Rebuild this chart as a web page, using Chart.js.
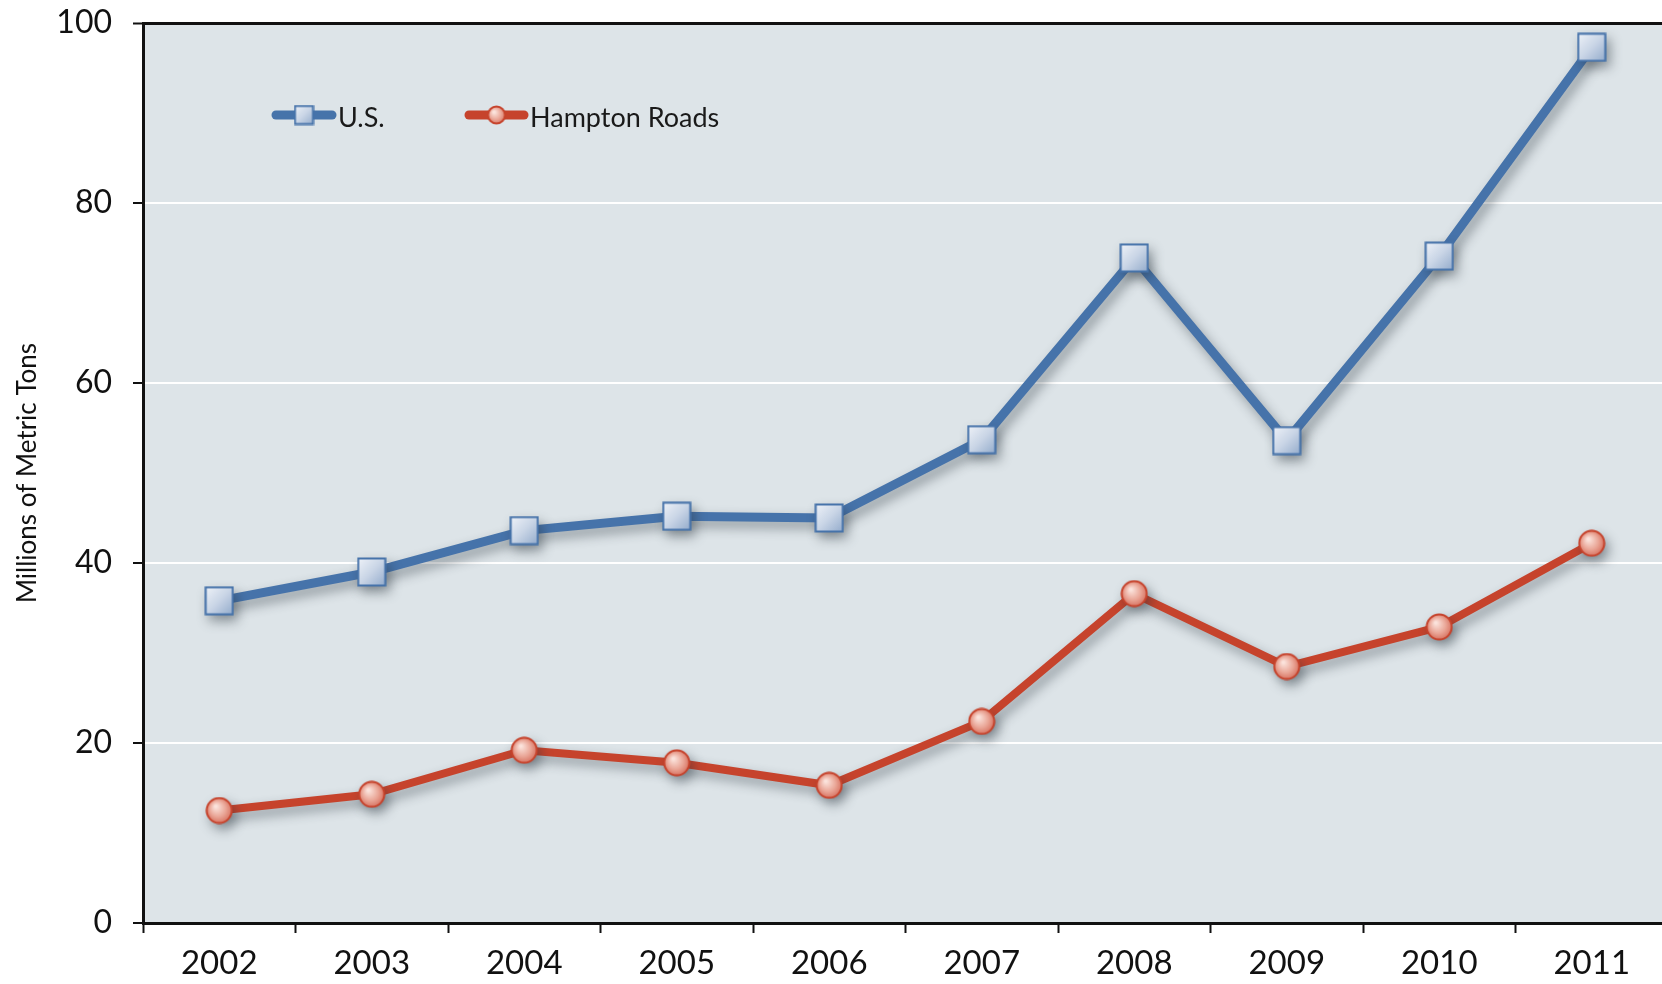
<!DOCTYPE html>
<html>
<head>
<meta charset="utf-8">
<script src="https://cdn.jsdelivr.net/npm/chart.js@4.4.1/dist/chart.umd.min.js"></script>
<style>
  html, body { margin: 0; padding: 0; background: #fff; overflow: hidden; }
  #tonsChart { display: block; }
</style>
</head>
<body>
<canvas id="tonsChart" width="1668" height="984"></canvas>
<script>
// Exports, millions of metric tons
const years = ['2002', '2003', '2004', '2005', '2006', '2007', '2008', '2009', '2010', '2011'];
const usTons = [35.8, 39.0, 43.6, 45.2, 45.0, 53.7, 73.9, 53.6, 74.1, 97.3];
const hamptonTons = [12.5, 14.3, 19.2, 17.8, 15.3, 22.4, 36.6, 28.5, 32.9, 42.2];
const yTicks = [0, 20, 40, 60, 80, 100];

const FONT = 'Lato, "Open Sans", sans-serif';
const BLUE = '#4673aa';
const RED = '#c6432c';

// marker sprites with a soft gradient fill
function squareSprite(size) {
  const c = document.createElement('canvas');
  c.width = size; c.height = size;
  const g = c.getContext('2d');
  const grad = g.createLinearGradient(0, 0, size, size);
  grad.addColorStop(0, '#f2f5fa');
  grad.addColorStop(0.5, '#c9d5e6');
  grad.addColorStop(1, '#8ea7c9');
  g.fillStyle = grad;
  g.fillRect(1, 1, size - 2, size - 2);
  g.strokeStyle = BLUE;
  g.lineWidth = 2;
  g.strokeRect(1.5, 1.5, size - 3, size - 3);
  return c;
}

function circleSprite(size) {
  const c = document.createElement('canvas');
  c.width = size; c.height = size;
  const g = c.getContext('2d');
  const r = size / 2;
  const grad = g.createRadialGradient(r * 0.75, r * 0.7, 1, r, r, r);
  grad.addColorStop(0, '#fbe3dc');
  grad.addColorStop(0.55, '#eaa697');
  grad.addColorStop(1, '#d46a58');
  g.fillStyle = grad;
  g.beginPath();
  g.arc(r, r, r - 1.5, 0, Math.PI * 2);
  g.fill();
  g.strokeStyle = RED;
  g.lineWidth = 2;
  g.stroke();
  return c;
}

const usMarker = squareSprite(30);
const hrMarker = circleSprite(28);
const usLegendMarker = squareSprite(21);
const hrLegendMarker = circleSprite(20);

// grey plot panel behind everything
const plotBackground = {
  id: 'plotBackground',
  beforeDraw(chart) {
    const { ctx, chartArea: a } = chart;
    ctx.save();
    ctx.fillStyle = '#dde4e8';
    ctx.fillRect(a.left, a.top, a.right - a.left, a.bottom - a.top);
    ctx.restore();
  }
};

// drop shadow under the series lines and markers
const seriesShadow = {
  id: 'seriesShadow',
  beforeDatasetDraw(chart) {
    const ctx = chart.ctx;
    ctx.save();
    ctx.shadowColor = 'rgba(40, 50, 60, 0.45)';
    ctx.shadowBlur = 12;
    ctx.shadowOffsetX = 4;
    ctx.shadowOffsetY = 6;
  },
  afterDatasetDraw(chart) {
    chart.ctx.restore();
  }
};

// legend sitting inside the plot, top left
const insetLegend = {
  id: 'insetLegend',
  afterDatasetsDraw(chart) {
    const ctx = chart.ctx;
    const items = [
      { x0: 272, x1: 336, color: BLUE, marker: usLegendMarker, text: chart.data.datasets[0].label },
      { x0: 465, x1: 528, color: RED, marker: hrLegendMarker, text: chart.data.datasets[1].label }
    ];
    const y = 115;
    ctx.save();
    items.forEach((it) => {
      ctx.strokeStyle = it.color;
      ctx.lineWidth = 9;
      ctx.lineCap = 'round';
      ctx.beginPath();
      ctx.moveTo(it.x0 + 4, y);
      ctx.lineTo(it.x1 - 4, y);
      ctx.stroke();
      const mx = (it.x0 + it.x1) / 2;
      ctx.drawImage(it.marker, mx - it.marker.width / 2, y - it.marker.height / 2);
      ctx.fillStyle = '#1a1a1a';
      ctx.font = '27px ' + FONT;
      ctx.textBaseline = 'middle';
      ctx.textAlign = 'left';
      ctx.fillText(it.text, it.x1 + 2, y + 3);
    });
    ctx.restore();
  }
};

new Chart(document.getElementById('tonsChart'), {
  type: 'line',
  data: {
    labels: years,
    datasets: [
      {
        label: 'U.S.',
        data: usTons,
        borderColor: BLUE,
        borderWidth: 9,
        tension: 0,
        pointStyle: usMarker,
        pointRadius: 15,
        pointHoverRadius: 15,
      },
      {
        label: 'Hampton Roads',
        data: hamptonTons,
        borderColor: RED,
        borderWidth: 8,
        tension: 0,
        pointStyle: hrMarker,
        pointRadius: 14,
        pointHoverRadius: 14,
      },
    ],
  },
  options: {
    responsive: false,
    animation: false,
    events: [],
    layout: { autoPadding: false, padding: { top: 23, right: 0, bottom: 0, left: 0 } },
    plugins: {
      legend: { display: false },
      tooltip: { enabled: false },
    },
    scales: {
      x: {
        offset: true,
        grid: {
          offset: true,
          drawOnChartArea: false,
          drawTicks: true,
          tickLength: 10,
          tickColor: '#111',
          tickWidth: 2,
        },
        border: { display: true, color: '#111', width: 3 },
        ticks: { color: '#111', font: { family: FONT, size: 33 }, padding: 11, maxRotation: 0 },
        afterFit: (scale) => {
          scale.height = 61;
          scale.paddingLeft = 0;
          scale.paddingRight = 0;
        },
      },
      y: {
        min: 0,
        max: 100,
        afterBuildTicks: (scale) => { scale.ticks = yTicks.map((v) => ({ value: v })); },
        grid: {
          color: (c) => (c.tick && c.tick.value === 100 ? '#111' : '#ffffff'),
          lineWidth: (c) => (c.tick && c.tick.value === 100 ? 3 : 2),
          tickLength: 10,
          tickColor: '#111',
          tickWidth: 2,
        },
        border: { display: true, color: '#111', width: 3 },
        ticks: { color: '#111', font: { family: FONT, size: 32 }, padding: 21 },
        title: {
          display: true,
          text: 'Millions of Metric Tons',
          color: '#111',
          font: { family: FONT, size: 26 },
          padding: { top: 12, bottom: 0 },
        },
        afterFit: (scale) => {
          scale.width = 143;
          scale.paddingTop = 0;
          scale.paddingBottom = 0;
        },
      },
    },
  },
  plugins: [plotBackground, seriesShadow, insetLegend],
});
</script>
</body>
</html>
